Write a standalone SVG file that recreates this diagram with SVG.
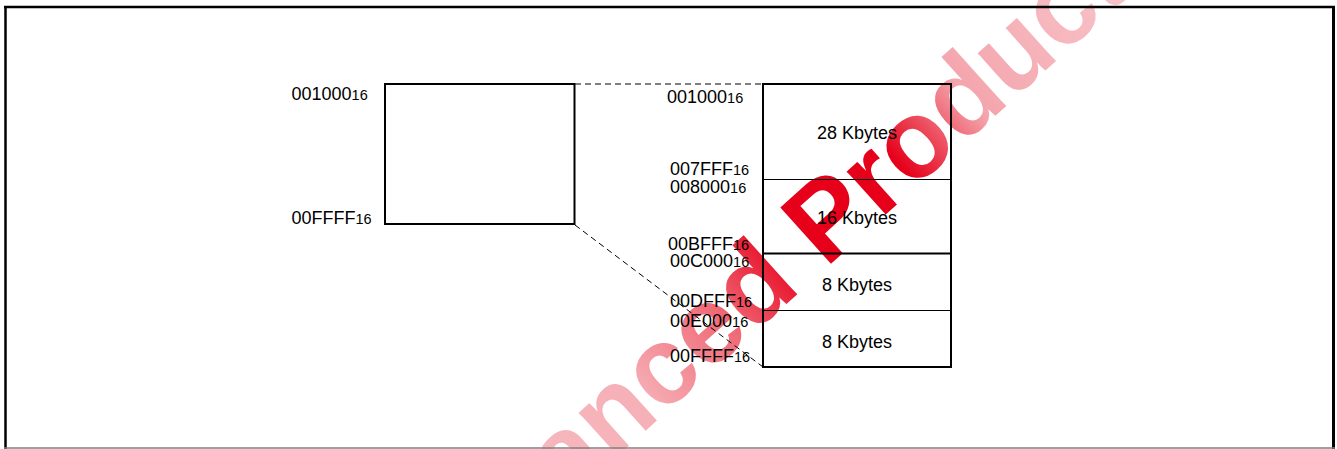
<svg xmlns="http://www.w3.org/2000/svg" width="1337" height="449" viewBox="0 0 1337 449">
  <style>
    .lbl { font-family: "Liberation Sans", Arial, sans-serif; font-size: 18px; fill: #000; }
    .sub { font-size: 14.5px; }
    .size { font-family: "Liberation Sans", Arial, sans-serif; font-size: 18px; fill: #000; text-anchor: middle; }
    .box { fill: none; stroke: #000; stroke-width: 2; }
    .div1 { stroke: #000; stroke-width: 1; }
    .div2 { stroke: #000; stroke-width: 2; }
    .dash { fill: none; stroke: #000; stroke-width: 1; stroke-dasharray: 6 4; }
    .wm { font-family: "Liberation Sans", Arial, sans-serif; font-weight: bold; font-size: 110px; }
  </style>
  <defs>
    <linearGradient id="wmgrad" x1="0" y1="0" x2="1" y2="0">
      <stop offset="0" stop-color="#f8c5ca"/>
      <stop offset="0.34" stop-color="#f6b0b7"/>
      <stop offset="0.46" stop-color="#f06a77"/>
      <stop offset="0.56" stop-color="#e6001a"/>
      <stop offset="0.7" stop-color="#e6001a"/>
      <stop offset="0.8" stop-color="#f4a5ad"/>
      <stop offset="1" stop-color="#f8c5ca"/>
    </linearGradient>
  </defs>
  <rect x="0" y="0" width="1337" height="449" fill="#fff"/>

  <!-- watermark -->
  <text class="wm" x="0" y="0" fill="url(#wmgrad)" transform="translate(412,641) rotate(-42)">Advanced Product</text>

  <!-- outer frame -->
  <g id="frame">
    <line x1="4" y1="7" x2="1335" y2="7" stroke="#000" stroke-width="2.5"/>
    <line x1="5.5" y1="6" x2="5.5" y2="449" stroke="#000" stroke-width="2.5"/>
    <line x1="1333.5" y1="6" x2="1333.5" y2="449" stroke="#000" stroke-width="3"/>
    <line x1="4" y1="448" x2="1335" y2="448" stroke="#808080" stroke-width="1.5"/>
  </g>

  <!-- connectors -->
  <g id="connectors">
    <line class="dash" x1="575" y1="84" x2="763" y2="84"/>
    <line class="dash" x1="575" y1="225" x2="763" y2="367"/>
  </g>

  <!-- left block -->
  <g id="block-left">
    <rect class="box" x="385" y="84" width="189.5" height="140"/>
    <text class="lbl" x="291.5" y="99.5">001000<tspan class="sub">16</tspan></text>
    <text class="lbl" x="291.5" y="223.5">00FFFF<tspan class="sub">16</tspan></text>
  </g>

  <!-- right memory map -->
  <g id="block-right">
    <rect class="box" x="763" y="84" width="188" height="283"/>
    <line class="div1" x1="763" y1="179.5" x2="951" y2="179.5"/>
    <line class="div2" x1="763" y1="253.5" x2="951" y2="253.5"/>
    <line class="div1" x1="763" y1="310.5" x2="951" y2="310.5"/>
  </g>
  <g id="block-28k">
    <text class="size" x="857" y="139">28 Kbytes</text>
    <text class="lbl" x="667" y="103">001000<tspan class="sub">16</tspan></text>
    <text class="lbl" x="670" y="175">007FFF<tspan class="sub">16</tspan></text>
  </g>
  <g id="block-16k">
    <text class="size" x="857" y="224">16 Kbytes</text>
    <text class="lbl" x="670" y="193">008000<tspan class="sub">16</tspan></text>
    <text class="lbl" x="668" y="250">00BFFF<tspan class="sub">16</tspan></text>
  </g>
  <g id="block-8k-a">
    <text class="size" x="857" y="291">8 Kbytes</text>
    <text class="lbl" x="670" y="266.5">00C000<tspan class="sub">16</tspan></text>
    <text class="lbl" x="670" y="307">00DFFF<tspan class="sub">16</tspan></text>
  </g>
  <g id="block-8k-b">
    <text class="size" x="857" y="348">8 Kbytes</text>
    <text class="lbl" x="670" y="327">00E000<tspan class="sub">16</tspan></text>
    <text class="lbl" x="670" y="362">00FFFF<tspan class="sub">16</tspan></text>
  </g>
</svg>
